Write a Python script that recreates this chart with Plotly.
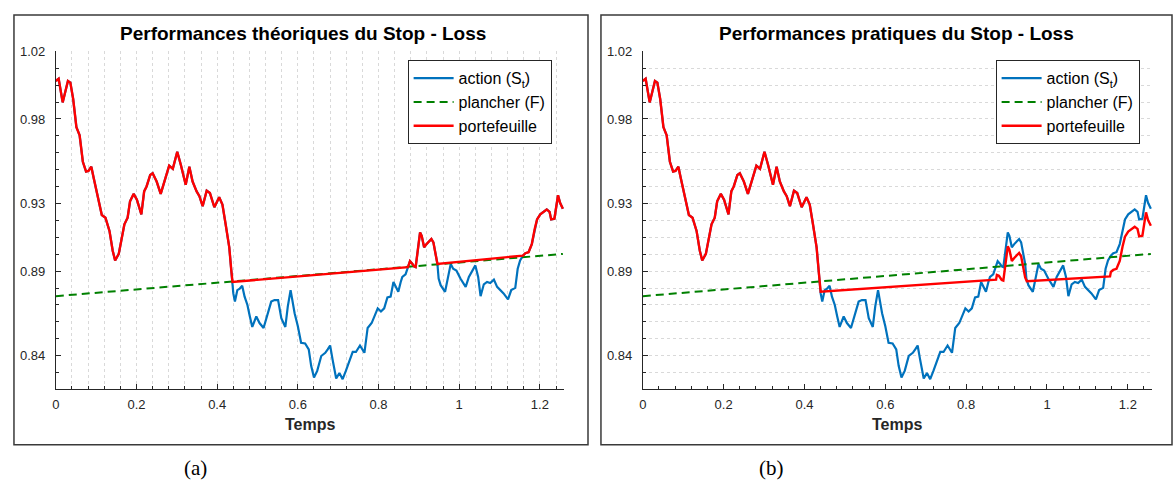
import numpy as np
import plotly.graph_objects as go

# Temps / cours de l'action (S_t)
temps = [0.000, 0.007, 0.017, 0.030, 0.036, 0.043, 0.051, 0.059, 0.067, 0.075,
         0.081, 0.088, 0.094, 0.100, 0.106, 0.114, 0.123, 0.133, 0.141, 0.147,
         0.156, 0.164, 0.170, 0.178, 0.184, 0.193, 0.201, 0.212, 0.219, 0.225,
         0.234, 0.240, 0.250, 0.260, 0.267, 0.275, 0.281, 0.290, 0.301, 0.310,
         0.322, 0.331, 0.339, 0.349, 0.356, 0.364, 0.374, 0.382, 0.393, 0.405,
         0.413, 0.421, 0.430, 0.435, 0.438,
         0.440, 0.444, 0.450, 0.456, 0.462, 0.468, 0.475, 0.481, 0.487, 0.497,
         0.505, 0.515, 0.524, 0.534, 0.542, 0.551, 0.559, 0.569, 0.575, 0.582,
         0.592, 0.600, 0.608, 0.618, 0.627, 0.633, 0.640, 0.648, 0.658, 0.668,
         0.674, 0.680, 0.686, 0.695, 0.703, 0.711, 0.719, 0.728, 0.736, 0.744,
         0.754, 0.765, 0.773, 0.783, 0.789, 0.798, 0.806, 0.814, 0.822, 0.830,
         0.837, 0.843, 0.849, 0.855, 0.859,
         0.867, 0.873, 0.878, 0.884, 0.888, 0.892, 0.898, 0.903, 0.907, 0.913,
         0.919, 0.925, 0.931, 0.936, 0.942, 0.946, 0.949, 0.954, 0.965, 0.972,
         0.979, 0.985, 0.993, 1.003, 1.016, 1.024, 1.032, 1.040, 1.047, 1.053,
         1.061, 1.069, 1.077, 1.086, 1.094, 1.102, 1.110, 1.121, 1.129, 1.139,
         1.145, 1.151, 1.158, 1.164, 1.172, 1.180, 1.187, 1.193, 1.201, 1.209,
         1.217, 1.224, 1.228, 1.236, 1.240, 1.245, 1.250, 1.257]
action = [1.0025, 1.0038, 0.9898, 1.0025, 1.0015, 0.9918, 0.9752, 0.9703, 0.9547, 0.9489,
          0.9493, 0.9518, 0.9450, 0.9382, 0.9333, 0.9232, 0.9216, 0.9138, 0.9021, 0.8963,
          0.9002, 0.9100, 0.9177, 0.9216, 0.9313, 0.9357, 0.9323, 0.9236, 0.9372, 0.9401,
          0.9469, 0.9479, 0.9430, 0.9357, 0.9411, 0.9469, 0.9524, 0.9505, 0.9606, 0.9528,
          0.9411, 0.9518, 0.9430, 0.9372, 0.9343, 0.9284, 0.9376, 0.9362, 0.9278, 0.9337,
          0.9294, 0.9177, 0.9041, 0.8904, 0.8836,
          0.8768, 0.8720, 0.8788, 0.8797, 0.8813, 0.8749, 0.8700, 0.8632, 0.8570, 0.8632,
          0.8593, 0.8564, 0.8632, 0.8720, 0.8729, 0.8729, 0.8622, 0.8570, 0.8690, 0.8788,
          0.8651, 0.8574, 0.8476, 0.8472, 0.8437, 0.8340, 0.8271, 0.8310, 0.8398, 0.8417,
          0.8437, 0.8460, 0.8378, 0.8265, 0.8297, 0.8261, 0.8310, 0.8369, 0.8422, 0.8422,
          0.8460, 0.8417, 0.8564, 0.8593, 0.8632, 0.8680, 0.8661, 0.8680, 0.8745, 0.8749,
          0.8836, 0.8807, 0.8778, 0.8836, 0.8866,
          0.8881, 0.8924, 0.8959, 0.8943, 0.8928, 0.8924, 0.9021, 0.9129, 0.9109, 0.9041,
          0.9060, 0.9076, 0.9090, 0.9070, 0.9002, 0.8943, 0.8856, 0.8817, 0.8778, 0.8866,
          0.8943, 0.8914, 0.8904, 0.8856, 0.8807, 0.8866, 0.8904, 0.8934, 0.8866, 0.8752,
          0.8822, 0.8836, 0.8830, 0.8850, 0.8807, 0.8788, 0.8768, 0.8733, 0.8788, 0.8801,
          0.8914, 0.8963, 0.8992, 0.9006, 0.9012, 0.9060, 0.9148, 0.9206, 0.9236, 0.9251,
          0.9265, 0.9251, 0.9206, 0.9210, 0.9275, 0.9349, 0.9304, 0.9269]

# Plancher (F)
plancher_t = [0.0, 1.257]
plancher = [0.8752, 0.9002]

# (a) le portefeuille théorique est posé sur le plancher sur ces intervalles
stop_a = [(0.438, 0.873), (0.946, 1.158)]

# (b) portefeuille pratique : suit l'action jusqu'à t = 0.438, puis
pf_b_t = [0.440, 0.874, 0.876, 0.881, 0.888, 0.892, 0.898, 0.903, 0.907, 0.913,
          0.919, 0.925, 0.931, 0.936, 0.942, 0.946, 0.950, 1.156, 1.158, 1.164,
          1.172, 1.180, 1.187, 1.193, 1.201, 1.209, 1.217, 1.224, 1.228, 1.236,
          1.240, 1.245, 1.250, 1.257]
pf_b = [0.8778, 0.8850, 0.8878, 0.8873, 0.8848, 0.8844, 0.8940, 0.9047, 0.9027, 0.8960,
        0.8978, 0.8994, 0.9008, 0.8988, 0.8921, 0.8863, 0.8840, 0.8869, 0.8895, 0.8908,
        0.8914, 0.8960, 0.9046, 0.9104, 0.9134, 0.9148, 0.9162, 0.9150, 0.9106, 0.9110,
        0.9174, 0.9248, 0.9202, 0.9168]

y_ticks = [0.84, 0.89, 0.93, 0.98, 1.02]
titres = ["Performances théoriques du Stop - Loss", "Performances pratiques du Stop - Loss"]

t = np.array(temps)
s = np.array(action)
keep = np.ones(len(t), dtype=bool)
for a, b in stop_a:
    keep &= ~((t > a) & (t < b))
pf_a_t, pf_a = t[keep], s[keep]
early = t <= 0.438
pf_b_t_full = np.concatenate([t[early], pf_b_t])
pf_b_full = np.concatenate([s[early], pf_b])

W, H = 1174, 493
BLUE, GREEN, RED = "#0072BD", "#008000", "#FF0000"
AX = "#262626"
FONT = "Liberation Sans"


def px(x):
    return x / W


def py(y):
    return 1 - y / H


fig = go.Figure()
panels = [(pf_a_t, pf_a, "x", "y", "legend"), (pf_b_t_full, pf_b_full, "x2", "y2", "legend2")]
for k, (rt, rv, xa, ya, lg) in enumerate(panels):
    fig.add_trace(go.Scatter(x=temps, y=action, mode="lines", name="action (S<sub>t</sub>)",
                             line=dict(color=BLUE, width=2.2), xaxis=xa, yaxis=ya, legend=lg))
    fig.add_trace(go.Scatter(x=plancher_t, y=plancher, mode="lines", name="plancher (F)",
                             line=dict(color=GREEN, width=2, dash="8px,5px"),
                             xaxis=xa, yaxis=ya, legend=lg))
    fig.add_trace(go.Scatter(x=rt, y=rv, mode="lines", name="portefeuille",
                             line=dict(color=RED, width=2.4), xaxis=xa, yaxis=ya, legend=lg))

plot_x = [(52, 562), (641, 1152)]
title_x = [300, 896]
grid = dict(color="#d9d9d9", dash="dot", width=1)


def xaxis(dom, gridon):
    return dict(domain=[px(dom[0]), px(dom[1])], range=[0, 1.26], tick0=0, dtick=0.2,
                ticks="inside", ticklen=5, tickcolor=AX, showline=True, linecolor=AX,
                linewidth=1, zeroline=False, showgrid=gridon, gridcolor=grid["color"],
                griddash=grid["dash"], gridwidth=1, ticklabelstandoff=3,
                tickfont=dict(family=FONT, size=13, color=AX),
                minor=dict(dtick=0.04, tick0=0, ticks="inside", ticklen=3, tickcolor=AX,
                           showgrid=gridon, gridcolor=grid["color"], griddash=grid["dash"]))


def yaxis(anchor, gridon):
    return dict(domain=[py(388), py(45)], range=[0.82, 1.02], tickmode="array",
                tickvals=y_ticks, ticktext=[f"{v:.2f}" for v in y_ticks], anchor=anchor,
                ticks="inside", ticklen=5, tickcolor=AX, showline=True, linecolor=AX,
                linewidth=1, zeroline=False, showgrid=gridon, gridcolor=grid["color"],
                griddash=grid["dash"], gridwidth=1, ticklabelstandoff=7,
                tickfont=dict(family=FONT, size=13, color=AX),
                minor=dict(tickmode="linear", tick0=0.82, dtick=0.01, ticks="inside",
                           ticklen=3, tickcolor=AX, showgrid=gridon,
                           gridcolor=grid["color"], griddash=grid["dash"]))


legend_style = dict(bgcolor="white", bordercolor=AX, borderwidth=1, itemwidth=40,
                    font=dict(family=FONT, size=16, color="black"),
                    xanchor="left", yanchor="top", y=py(54))

fig.update_layout(
    width=W, height=H, margin=dict(l=0, r=0, t=0, b=0),
    paper_bgcolor="white", plot_bgcolor="white",
    xaxis=dict(xaxis(plot_x[0], True), anchor="y"),
    yaxis=yaxis("x", False),
    xaxis2=dict(xaxis(plot_x[1], False), anchor="y2"),
    yaxis2=yaxis("x2", True),
    legend=dict(legend_style, x=px(405)),
    legend2=dict(legend_style, x=px(995)),
    showlegend=True,
)

frames = [(10, 586), (599, 1172)]
for x0, x1 in frames:
    fig.add_shape(type="rect", xref="paper", yref="paper", x0=px(x0), x1=px(x1),
                  y0=py(444), y1=py(8), line=dict(color="#3a3a3a", width=1.5))

for k, (x0, x1) in enumerate(plot_x):
    cx = (x0 + x1) / 2
    fig.add_annotation(x=px(title_x[k]), y=py(27), xref="paper", yref="paper",
                       showarrow=False, xanchor="center", yanchor="middle",
                       text=f"<b>{titres[k]}</b>",
                       font=dict(family=FONT, size=19, color="black"))
    fig.add_annotation(x=px(cx), y=py(424), xref="paper", yref="paper", showarrow=False,
                       xanchor="center", yanchor="middle",
                       text="<b>Temps</b>", font=dict(family=FONT, size=16, color=AX))

for lab, cx in [("(a)", 192), ("(b)", 770)]:
    fig.add_annotation(x=px(cx), y=py(468), xref="paper", yref="paper", showarrow=False,
                       xanchor="center", yanchor="middle",
                       text=lab, font=dict(family="Liberation Serif", size=21, color="black"))

fig.write_html("out.html", config={"displayModeBar": False},
               post_script="document.body.style.margin='0px';")
